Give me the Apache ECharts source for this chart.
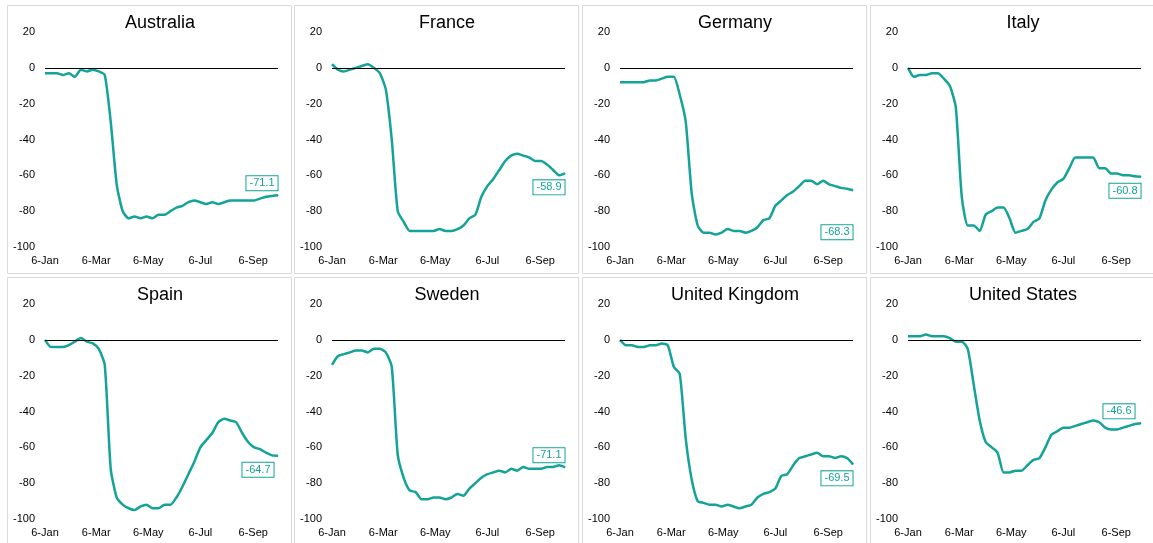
<!DOCTYPE html>
<html><head><meta charset="utf-8">
<script src="https://cdn.jsdelivr.net/npm/echarts@6/dist/echarts.min.js"></script>
<style>html,body{margin:0;padding:0;background:#fff}#c{width:1153px;height:543px}</style>
</head><body><div id="c"></div>
<script>
// weekly points, x = days since 6-Jan
const countries = ['Australia','France','Germany','Italy','Spain','Sweden','United Kingdom','United States']
const tickLabels = ['6-Jan','6-Mar','6-May','6-Jul','6-Sep']
const tickDays = [0, 60, 121, 182, 244]

const australia = [-3,-3,-3,-4,-3,-5,-1,-2,-1,-2,-4,-30,-65,-80,-84,-83,-84,-83,-84,-82,-82,-80,-78,-77,-75,-74,-75,-76,-75,-76,-75,-74,-74,-74,-74,-74,-73,-72,-71.5,-71.1]
const france = [2,-1,-2,-1,0,1,2,0,-3,-12,-40,-80,-86,-91,-91,-91,-91,-91,-90,-91,-91,-90,-88,-84,-82,-72,-66,-62,-57,-52,-49,-48,-49,-50,-52,-52,-54,-57,-60,-58.9]
const germany = [-8,-8,-8,-8,-8,-7,-7,-6,-5,-5,-15,-30,-70,-88,-92,-92,-93,-92,-90,-91,-91,-92,-91,-89,-85,-84,-77,-74,-71,-69,-66,-63,-63,-65,-63,-65,-66,-67,-67.5,-68.3]
const italy = [0,-5,-4,-4,-3,-3,-6,-10,-22,-72,-88,-88,-91,-82,-80,-78,-78,-84,-92,-91,-90,-86,-84,-74,-68,-64,-62,-56,-50,-50,-50,-50,-56,-56,-59,-59,-60,-60,-60.5,-60.8]
const spain = [0,-4,-4,-4,-3,-1,1,-1,-2,-5,-14,-72,-88,-92,-94,-95,-93,-92,-94,-94,-92,-92,-88,-82,-75,-68,-60,-56,-52,-46,-44,-45,-46,-52,-57,-60,-61,-63,-64.5,-64.7]
const sweden = [-14,-9,-8,-7,-6,-6,-7,-5,-5,-7,-15,-64,-77,-84,-85,-89,-89,-88,-88,-89,-88,-86,-87,-83,-80,-77,-75,-74,-73,-74,-72,-73,-71,-72,-72,-72,-71,-71,-70,-71.1]
const uk = [0,-3,-3,-4,-4,-3,-3,-2,-3,-15,-19,-55,-78,-90,-91,-92,-92,-93,-92,-93,-94,-93,-92,-88,-86,-85,-83,-76,-75,-70,-66,-65,-64,-63,-65,-65,-66,-65,-66,-69.5]
const us = [2,2,2,3,2,2,2,1,-1,-1,-5,-25,-45,-57,-60,-63,-74,-74,-73,-73,-70,-67,-66,-60,-53,-51,-49,-49,-48,-47,-46,-45,-46,-49,-50,-50,-49,-48,-47,-46.6]
const allData = [australia, france, germany, italy, spain, sweden, uk, us]
// label placement relative to last point: [dx, dy]
const labelOffsets = [[-16,-12],[-16,14],[-16,42],[-16,14],[-20,14],[-16,-12],[-16,14],[-22,-12]]

const teal = '#13a398'
const panelLeft = [5, 292, 580, 868]
const panelTop = [3, 275]
const panelW = 284, panelH = 268

const chart = echarts.init(document.getElementById('c'))
const grid = [], xAxis = [], yAxis = [], series = [], title = [], graphic = []
countries.forEach((name, i) => {
  const col = i % 4, row = Math.floor(i / 4)
  const L = panelLeft[col], T = panelTop[row]
  graphic.push({type:'rect', left:L, top:T, shape:{width:panelW, height:panelH}, style:{fill:'none', stroke:'#d9d9d9', lineWidth:1}, silent:true})
  title.push({text:name, left:L + 150, top:T + 6, textAlign:'center', textStyle:{fontFamily:'Liberation Sans', fontSize:18, fontWeight:'normal', color:'#000'}})
  grid.push({left:L + 40, top:T + 29, width:233, height:215})
  xAxis.push({type:'value', gridIndex:i, min:0, max:273, interval:61,
    axisLine:{show:false}, axisTick:{show:false}, splitLine:{show:false},
    axisLabel:{fontFamily:'Liberation Sans', fontSize:11, color:'#000', margin:8,
      customValues: tickDays,
      formatter: v => tickLabels[tickDays.indexOf(v)] ?? ''}})
  yAxis.push({type:'value', gridIndex:i, min:-100, max:20, interval:20,
    axisLine:{show:false}, axisTick:{show:false}, splitLine:{show:false},
    axisLabel:{fontFamily:'Liberation Sans', fontSize:11, color:'#000', margin:10}})
  const vals = allData[i]
  const data = vals.map((v, k) => k === vals.length - 1 ? {value:[k * 7, v], symbolSize:1, label:{show:true,
      formatter: p => p.value[1].toFixed(1), position:'inside', offset:labelOffsets[i],
      color:teal, fontFamily:'Liberation Sans', fontSize:11, backgroundColor:'#fff',
      borderColor:teal, borderWidth:1, padding:[2,3,1,3]}} : {value:[k * 7, v], symbolSize:0})
  series.push({type:'line', xAxisIndex:i, yAxisIndex:i, data, showSymbol:true, symbol:'circle', symbolSize:0,
    itemStyle:{color:teal}, smooth:0.2, lineStyle:{color:teal, width:2.5}, z:3, animation:false,
    markLine:{silent:true, symbol:'none', label:{show:false}, lineStyle:{color:'#000', width:1, type:'solid'},
      data:[{yAxis:0}]}})
})
chart.setOption({animation:false, grid, xAxis, yAxis, series, title, graphic})
</script></body></html>
